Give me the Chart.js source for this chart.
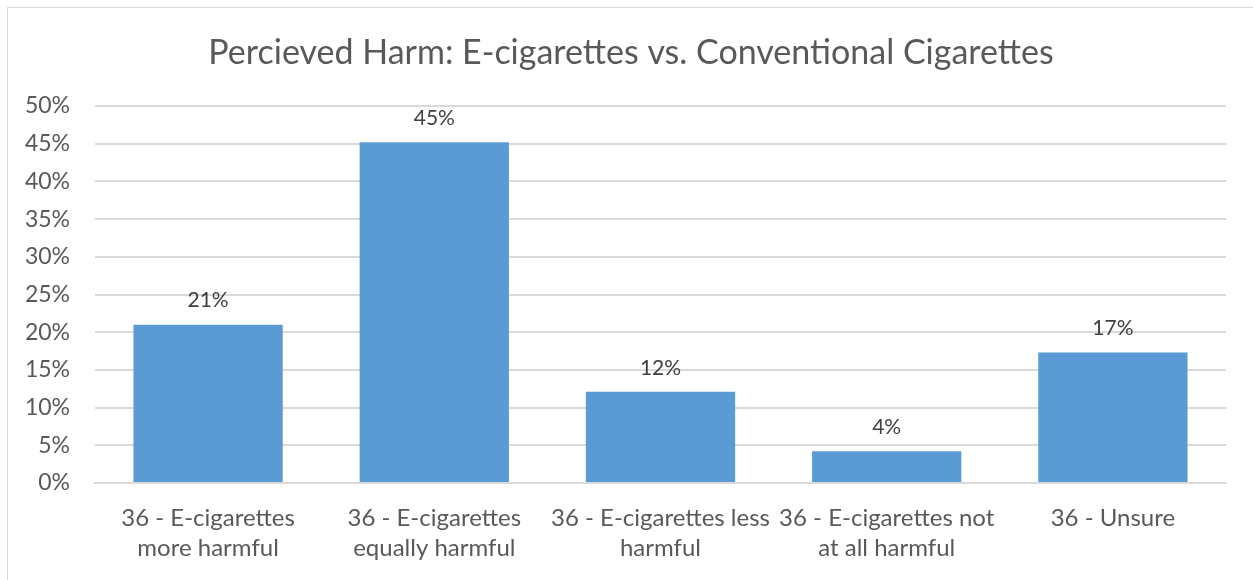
<!DOCTYPE html>
<html>
<head>
<meta charset="utf-8">
<script src="https://cdn.jsdelivr.net/npm/chart.js@4/dist/chart.umd.min.js"></script>
<style>
  html, body { margin: 0; padding: 0; background: #fff; }
  .frame { position: absolute; left: 7px; top: 7px; width: 1300px; height: 640px; border: 1px solid #d9d9d9; }
  canvas { position: absolute; left: 0; top: 0; }
</style>
</head>
<body>
<div class="frame"></div>
<canvas id="harmChart" width="1253" height="580"></canvas>
<script>
/* ── Data ── */
const chartTitle = 'Percieved Harm: E-cigarettes vs. Conventional Cigarettes';
const categories = [
  ['36 - E-cigarettes', 'more harmful'],
  ['36 - E-cigarettes', 'equally harmful'],
  ['36 - E-cigarettes less', 'harmful'],
  ['36 - E-cigarettes not', 'at all harmful'],
  ['36 - Unsure'],
];
const shares = [0.21, 0.452, 0.121, 0.042, 0.173];
const yTicks = [0, 0.05, 0.10, 0.15, 0.20, 0.25, 0.30, 0.35, 0.40, 0.45, 0.50];

const FONT = "Lato, 'Open Sans', sans-serif";

/* ── title, centred on the chart frame rather than the canvas ── */
const frameTitle = {
  id: 'frameTitle',
  afterDraw(chart) {
    const { ctx } = chart;
    ctx.save();
    ctx.font = `34px ${FONT}`;
    ctx.fillStyle = '#595959';
    ctx.textAlign = 'center';
    ctx.textBaseline = 'middle';
    ctx.fillText(chartTitle, 631, 53);
    ctx.restore();
  },
};

/* ── value labels above bars ── */
const barLabels = {
  id: 'barLabels',
  afterDatasetsDraw(chart) {
    const { ctx } = chart;
    const meta = chart.getDatasetMeta(0);
    ctx.save();
    ctx.font = `21px ${FONT}`;
    ctx.fillStyle = '#404040';
    ctx.textAlign = 'center';
    ctx.textBaseline = 'middle';
    meta.data.forEach((bar, i) => {
      ctx.fillText(Math.round(shares[i] * 100) + '%', bar.x, bar.y - 24);
    });
    ctx.restore();
  },
};

new Chart(document.getElementById('harmChart'), {
  type: 'bar',
  data: {
    labels: categories,
    datasets: [{
      data: shares,
      backgroundColor: '#5b9bd5',
      borderWidth: 0,
      categoryPercentage: 1,
      barPercentage: 0.66,
    }],
  },
  options: {
    responsive: false,
    animation: false,
    layout: { padding: { left: 0, right: 27, top: 106, bottom: 0 } },
    plugins: {
      legend: { display: false },
      tooltip: { enabled: false },
      title: { display: false },
    },
    scales: {
      x: {
        grid: { display: false },
        border: { color: '#d9d9d9', width: 2 },
        ticks: {
          color: '#595959',
          font: { family: FONT, size: 24, lineHeight: 1.25 },
          padding: 12,
          maxRotation: 0,
          autoSkip: false,
        },
        afterFit(scale) { scale.height = 97; },
      },
      y: {
        min: 0,
        max: 0.5,
        afterBuildTicks(scale) { scale.ticks = yTicks.map(v => ({ value: v })); },
        grid: { color: '#d9d9d9', lineWidth: 2, drawTicks: false },
        border: { display: false },
        ticks: {
          color: '#595959',
          font: { family: FONT, size: 23 },
          padding: 25,
          callback: v => Math.round(v * 100) + '%',
        },
        afterFit(scale) { scale.width = 95; },
      },
    },
  },
  plugins: [barLabels, frameTitle],
});
</script>
</body>
</html>
